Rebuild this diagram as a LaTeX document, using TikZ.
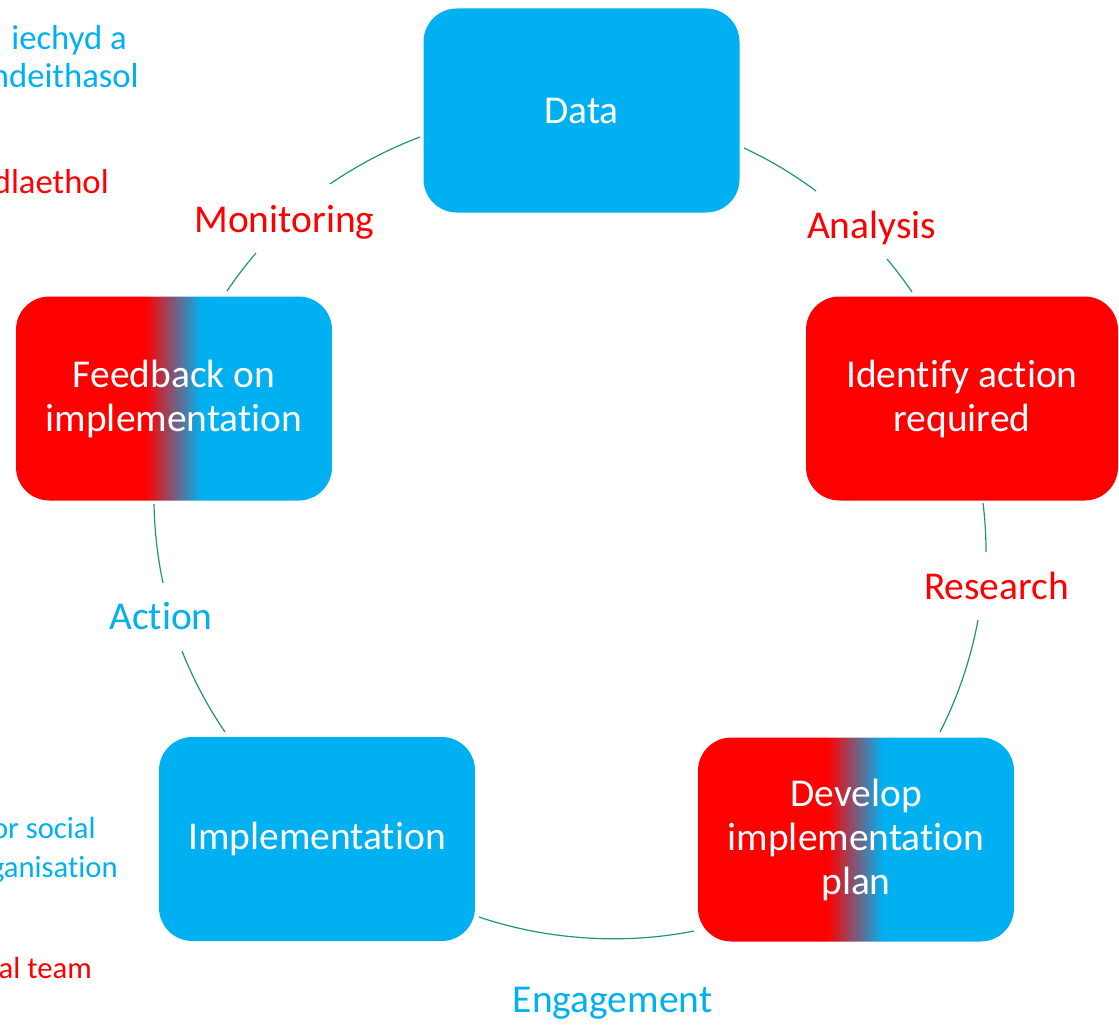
\documentclass[tikz,border=0pt]{standalone}
\usepackage{fontspec}
\setmainfont{Carlito}[Ligatures=CommonOff]
\definecolor{myblue}{RGB}{0,176,240}
\definecolor{myred}{RGB}{255,0,0}
\definecolor{arcgreen}{RGB}{30,150,110}
\pgfdeclarehorizontalshading{redblue}{100bp}{color(0bp)=(myred); color(45.5bp)=(myred); color(54.25bp)=(myblue); color(100bp)=(myblue)}
\tikzset{
  box/.style={rectangle, rounded corners=25pt, draw=none, minimum width=237pt, minimum height=153pt, inner sep=0pt, align=center, text=white, font=\fontsize{29.6}{33}\selectfont},
  bluebox/.style={box, fill=myblue},
  redbox/.style={box, fill=myred},
  mixbox/.style={box, shade, shading=redblue, shading angle=0},
  lbl/.style={anchor=base, inner sep=0pt, font=\fontsize{29.6}{33}\selectfont},
  sidetop/.style={anchor=base east, inner sep=0pt, font=\fontsize{26}{30}\selectfont},
  sidebot/.style={anchor=base east, inner sep=0pt, font=\fontsize{23}{28}\selectfont},
  arcline/.style={draw=arcgreen, line width=0.9pt, looseness=0.85}
}
\begin{document}
\begin{tikzpicture}[x=0.75pt,y=0.75pt]
\useasboundingbox (0,0) rectangle (1119,-1024);
% boxes
\node[bluebox] (data) at (581.5,-110.5) {Data};
\node[redbox, minimum width=234pt] (ident) at (962,-398.5) {Identify action\\required};
\node[mixbox] (dev) at (856,-839.5) {Develop\\implementation\\plan};
\node[bluebox] (impl) at (317,-839) {Implementation};
\node[mixbox] (feed) at (174,-398.5) {Feedback on\\implementation};
% labels
\node[lbl, text=myred] (analysis) at (871.5,-238) {Analysis};
\node[lbl, text=myred] (research) at (996.5,-599) {Research};
\node[lbl, text=myblue] (engage) at (612.5,-1012) {Engagement};
\node[lbl, text=myblue] (action) at (161,-629) {Action};
\node[lbl, text=myred] (monitor) at (284.5,-232) {Monitoring};
% side texts (clipped at the left edge as in the reference)
\node[sidetop, text=myblue] (s1) at (127,-50) {iechyd a};
\node[sidetop, text=myblue] (s2) at (139,-88) {ndeithasol};
\node[sidetop, text=myred] (s3) at (109,-193) {dlaethol};
\node[sidebot, text=myblue] (s4) at (96,-838) {or social};
\node[sidebot, text=myblue] (s5) at (118,-877) {ganisation};
\node[sidebot, text=myred] (s6) at (92,-978) {al team};
% arc end points
\coordinate (a1) at (744,-148); \coordinate (a2) at (816,-191);
\coordinate (a3) at (887,-259); \coordinate (a4) at (912,-292);
\coordinate (b1) at (983,-503); \coordinate (b2) at (986,-552);
\coordinate (b3) at (978,-620); \coordinate (b4) at (940,-732);
\coordinate (c1) at (694,-931); \coordinate (c2) at (479,-917);
\coordinate (d1) at (225,-732); \coordinate (d2) at (182,-651);
\coordinate (d3) at (163,-583); \coordinate (d4) at (154,-504);
\coordinate (e1) at (227,-291); \coordinate (e2) at (256,-253);
\coordinate (e3) at (330,-184); \coordinate (e4) at (420,-137);
% arcs
\draw[arcline] (a1) to[bend left=5.9] (a2);
\draw[arcline] (a3) to[bend left=2.9] (a4);
\draw[arcline] (b1) to[bend left=3.5] (b2);
\draw[arcline] (b3) to[bend left=8.3] (b4);
\draw[arcline] (c1) to[bend left=15] (c2);
\draw[arcline] (d1) to[bend left=6.4] (d2);
\draw[arcline] (d3) to[bend left=5.4] (d4);
\draw[arcline] (e1) to[bend left=3.3] (e2);
\draw[arcline] (e3) to[bend left=6.9] (e4);
\end{tikzpicture}
\end{document}
